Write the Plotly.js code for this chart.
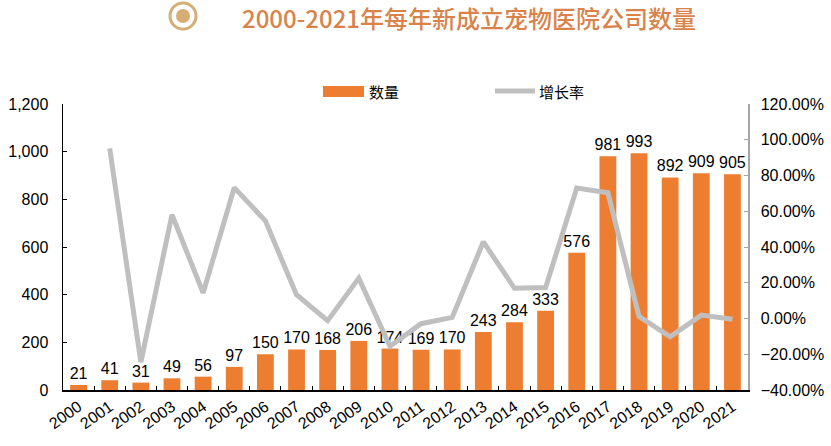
<!DOCTYPE html>
<html>
<head>
<meta charset="utf-8">
<script src="https://cdn.plot.ly/plotly-3.0.1.min.js"></script>
<style>html,body{margin:0;padding:0;background:#fff;}#chart{width:831px;height:446px;}</style>
</head>
<body>
<div id="chart"></div>
<script>
const years = ['2000','2001','2002','2003','2004','2005','2006','2007','2008','2009','2010','2011','2012','2013','2014','2015','2016','2017','2018','2019','2020','2021'];
const counts = [21,41,31,49,56,97,150,170,168,206,174,169,170,243,284,333,576,981,993,892,909,905];
const growth = [null,0.952,-0.244,0.581,0.143,0.732,0.546,0.133,-0.012,0.226,-0.155,-0.029,0.006,0.429,0.169,0.173,0.730,0.703,0.012,-0.102,0.019,-0.004];
const leftTicks = [0,200,400,600,800,1000,1200];
const rightTicks = [-0.4,-0.2,0,0.2,0.4,0.6,0.8,1.0,1.2];
const seriesNames = ['数量','增长率'];
const titleText = '2000-2021年每年新成立宠物医院公司数量';

const orange = '#ED7D31';
const gray = '#BFBFBF';
const font = 'Arial, "Liberation Sans", "Noto Sans CJK SC", sans-serif';

const traces = [
  {
    type: 'bar', x: years, y: counts, name: seriesNames[0],
    marker: {color: orange},
    text: counts.map(String), textposition: 'outside', cliponaxis: false,
    constraintext: 'none', textangle: 0,
    textfont: {family: font, size: 16, color: '#000'},
    showlegend: false, hoverinfo: 'x+y'
  },
  {
    type: 'scatter', mode: 'lines', x: years, y: growth, name: seriesNames[1],
    yaxis: 'y2', line: {color: gray, width: 5}, connectgaps: false,
    showlegend: false
  }
];

const P = (px) => (px - 63) / 685;          // paper x from pixel
const Q = (py) => 1 + (104 - py) / 286;     // paper y from pixel

const layout = {
  width: 831, height: 446,
  margin: {l: 63, r: 83, t: 104, b: 56},
  paper_bgcolor: '#fff', plot_bgcolor: 'rgba(0,0,0,0)',
  font: {family: font, size: 16, color: '#000'},
  bargap: 0.46,
  showlegend: false,
  xaxis: {
    type: 'category', tickangle: -35,
    showline: true, linecolor: '#000', linewidth: 1.5,
    ticks: 'inside', ticklen: 4, tickcolor: '#000', tickson: 'boundaries',
    tickfont: {family: font, size: 16, color: '#000'},
    showgrid: false, zeroline: false, fixedrange: true
  },
  yaxis: {
    range: [0, 1200], tickvals: leftTicks, tickformat: ',d',
    showline: true, linecolor: '#000', linewidth: 1.5,
    ticks: 'inside', ticklen: 4, tickcolor: '#000',
    ticklabelstandoff: 10,
    showgrid: false, zeroline: false,
    tickfont: {family: font, size: 16, color: '#000'}
  },
  yaxis2: {
    overlaying: 'y', side: 'right',
    range: [-0.4, 1.2], tickvals: rightTicks, tickformat: '.2%',
    showline: true, linecolor: '#A6A6A6', linewidth: 1.5,
    ticks: 'inside', ticklen: 4, tickcolor: '#A6A6A6',
    ticklabelstandoff: 8,
    showgrid: false, zeroline: false,
    tickfont: {family: font, size: 16, color: '#000'}
  },
  annotations: [
    {xref: 'paper', yref: 'paper', xanchor: 'center', yanchor: 'middle',
     x: P(469), y: Q(17), text: titleText, showarrow: false,
     font: {family: '"Noto Sans CJK SC", sans-serif', size: 24, weight: 500, color: '#D9834B'}},
    {xref: 'paper', yref: 'paper', xanchor: 'left', yanchor: 'middle',
     x: P(367), y: Q(91), text: seriesNames[0], showarrow: false,
     font: {family: '"Noto Sans CJK SC", sans-serif', size: 15, color: '#000'}},
    {xref: 'paper', yref: 'paper', xanchor: 'left', yanchor: 'middle',
     x: P(537), y: Q(91), text: seriesNames[1], showarrow: false,
     font: {family: '"Noto Sans CJK SC", sans-serif', size: 15, color: '#000'}}
  ],
  shapes: [
    {type: 'rect', xref: 'paper', yref: 'paper',
     x0: P(323), x1: P(364), y0: Q(97), y1: Q(86),
     fillcolor: orange, line: {width: 0}},
    {type: 'line', xref: 'paper', yref: 'paper',
     x0: P(495), x1: P(535), y0: Q(91), y1: Q(91),
     line: {color: gray, width: 5}},
    {type: 'circle', xref: 'paper', yref: 'paper',
     x0: P(170), x1: P(196), y0: Q(29), y1: Q(3),
     fillcolor: 'rgba(0,0,0,0)', line: {color: '#D6AE74', width: 3}},
    {type: 'circle', xref: 'paper', yref: 'paper',
     x0: P(176), x1: P(190), y0: Q(23), y1: Q(9),
     fillcolor: '#D6AE74', line: {width: 0}}
  ]
};

Plotly.newPlot('chart', traces, layout, {displayModeBar: false, staticPlot: true});
</script>
</body>
</html>
